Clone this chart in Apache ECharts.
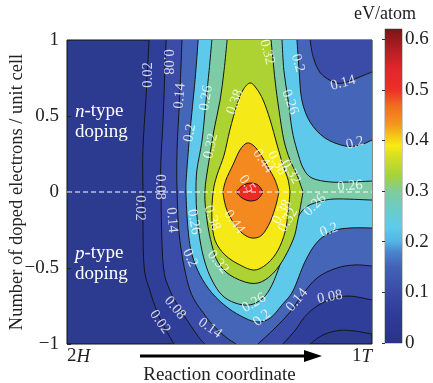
<!DOCTYPE html>
<html>
<head>
<meta charset="utf-8">
<script src="https://cdn.jsdelivr.net/npm/echarts@6/dist/echarts.min.js"></script>
<style>
  html, body { margin: 0; padding: 0; background: #fff; }
  #main { width: 433px; height: 383px; }
</style>
</head>
<body>
<div id="main"></div>
<script>
// x: reaction coordinate (0 = 2H, 1 = 1T), y: doped electrons per unit cell
const levels = [0.02, 0.08, 0.14, 0.2, 0.26, 0.32, 0.38, 0.44, 0.5];
const baseColor = '#2c3a8f'; // below 0.02
const bandColors = ['#2f3e99', '#3a4ca7', '#4565b8', '#5ec9ea', '#7ecca5', '#acd332', '#f5ea17', '#f48a1f', '#ec2b27'];

// contour lines
const c002L = [[0.269, 1], [0.259, 0.62], [0.249, 0.28], [0.249, 0.01], [0.252, -0.47], [0.272, -0.65], [0.298, -0.8], [0.325, -0.91], [0.351, -1]];
const c002R = [[0.797, -1], [0.823, -0.96], [0.852, -0.93], [0.895, -0.91], [0.944, -0.915], [1, -0.935]];
const c008L = [[0.325, 1], [0.321, 0.8], [0.315, 0.47], [0.308, 0.21], [0.308, 0], [0.315, -0.47], [0.338, -0.65], [0.38, -0.8], [0.43, -0.95], [0.452, -1]];
const c008R = [[0.708, -1], [0.748, -0.91], [0.78, -0.82], [0.82, -0.75], [0.872, -0.7], [0.928, -0.685], [1, -0.71]];
const c014L = [[0.377, 1], [0.37, 0.65], [0.361, 0.28], [0.361, 0], [0.37, -0.32], [0.403, -0.645], [0.452, -0.81], [0.485, -0.89], [0.521, -0.955], [0.554, -1]];
const c014R = [[0.626, -1], [0.682, -0.895], [0.731, -0.79], [0.77, -0.68], [0.82, -0.565], [0.885, -0.5], [0.944, -0.48], [1, -0.487]];
const c014T = [[0.797, 1], [0.807, 0.89], [0.83, 0.785], [0.872, 0.725], [0.905, 0.717], [0.951, 0.75], [1, 0.79]];
const c020L = [[0.43, 1], [0.42, 0.74], [0.403, 0.39], [0.393, 0.145], [0.39, 0], [0.397, -0.25], [0.41, -0.414], [0.436, -0.546], [0.475, -0.664], [0.528, -0.763], [0.584, -0.83], [0.626, -0.855], [0.666, -0.83], [0.705, -0.743], [0.741, -0.65], [0.78, -0.46], [0.82, -0.33], [0.872, -0.257], [0.928, -0.237], [1, -0.237]];
const c020T = [[0.754, 1], [0.761, 0.8], [0.77, 0.605], [0.797, 0.46], [0.846, 0.355], [0.911, 0.303], [0.961, 0.309], [1, 0.342]];
const c026L = [[0.475, 1], [0.466, 0.8], [0.456, 0.605], [0.443, 0.342], [0.426, 0.145], [0.423, 0], [0.426, -0.151], [0.436, -0.316], [0.452, -0.461], [0.475, -0.579], [0.508, -0.678], [0.551, -0.73], [0.6, -0.743], [0.643, -0.697], [0.672, -0.612], [0.698, -0.48], [0.725, -0.316], [0.748, -0.197], [0.78, -0.105], [0.823, -0.066], [0.879, -0.046], [1, -0.053]];
const c026T = [[0.705, 1], [0.711, 0.8], [0.725, 0.605], [0.738, 0.408], [0.754, 0.276], [0.774, 0.158], [0.803, 0.092], [0.862, 0.066], [0.928, 0.066], [1, 0.072]];
const c032 = [[0.525, 1], [0.515, 0.8], [0.502, 0.605], [0.482, 0.408], [0.466, 0.211], [0.452, 0], [0.459, -0.184], [0.475, -0.349], [0.495, -0.461], [0.534, -0.546], [0.6, -0.6], [0.649, -0.579], [0.698, -0.48], [0.741, -0.316], [0.757, -0.184], [0.774, 0], [0.754, 0.112], [0.731, 0.211], [0.711, 0.342], [0.695, 0.539], [0.682, 0.737], [0.669, 1]];
const c038 = [[0.6, 0.717], [0.577, 0.671], [0.557, 0.572], [0.534, 0.408], [0.515, 0.243], [0.492, 0.112], [0.479, 0], [0.475, -0.171], [0.485, -0.316], [0.518, -0.414], [0.567, -0.48], [0.616, -0.513], [0.659, -0.467], [0.692, -0.382], [0.715, -0.263], [0.725, -0.132], [0.731, 0], [0.725, 0.079], [0.708, 0.178], [0.689, 0.309], [0.666, 0.474], [0.643, 0.605], [0.62, 0.684]];
const c044 = [[0.59, 0.322], [0.567, 0.276], [0.544, 0.178], [0.521, 0.079], [0.511, 0], [0.521, -0.099], [0.544, -0.197], [0.574, -0.27], [0.607, -0.303], [0.639, -0.283], [0.666, -0.197], [0.685, -0.086], [0.695, 0], [0.682, 0.079], [0.659, 0.164], [0.636, 0.243], [0.613, 0.303]];
const c050 = [[0.554, 0], [0.574, 0.039], [0.6, 0.059], [0.626, 0.046], [0.643, 0], [0.626, -0.046], [0.6, -0.059], [0.574, -0.039]];

// contour labels [x, y, text] and their rotation
const contourLabels = [
  [0.266, 0.77, '0.02'], [0.331, 0.855, '0.08'], [0.37, 0.632, '0.14'], [0.403, 0.388, '0.2'],
  [0.456, 0.618, '0.26'], [0.472, 0.303, '0.32'], [0.551, 0.592, '0.38'], [0.656, 0.921, '0.32'],
  [0.757, 0.849, '0.2'], [0.731, 0.592, '0.26'], [0.905, 0.717, '0.14'], [0.944, 0.322, '0.2'],
  [0.928, 0.039, '0.26'], [0.59, 0.053, '0.5'], [0.643, 0.204, '0.44'], [0.689, 0.191, '0.38'],
  [0.734, 0.132, '0.32'], [0.548, -0.197, '0.44'], [0.475, -0.171, '0.38'], [0.705, -0.132, '0.38'],
  [0.725, -0.184, '0.32'], [0.813, -0.086, '0.26'], [0.859, -0.25, '0.2'], [0.613, -0.73, '0.26'],
  [0.639, -0.829, '0.2'], [0.754, -0.711, '0.14'], [0.862, -0.691, '0.08'], [0.469, -0.895, '0.14'],
  [0.354, -0.763, '0.08'], [0.305, -0.855, '0.02'], [0.344, -0.184, '0.14'], [0.305, 0.033, '0.08'],
  [0.239, -0.105, '0.02'], [0.416, -0.197, '0.26'], [0.403, -0.434, '0.2'], [0.495, -0.461, '0.32']
];
const labelAngles = [90, -90, 85, 80, 80, 78, 70, -75, -75, -70, 15, 15, 5, -55, -55, -60, -60, -55, -70, 60,
  60, 45, 20, 30, 40, 50, 10, -35, -50, -55, -85, -90, -90, -80, -65, -50];

const zeroLine = [[0, 0], [1, 0]];

// colour bar (value, colour)
const cbMax = 0.62;
const cbStops = [
  [0, '#2a3288'], [0.06, '#2f3d98'], [0.1, '#3a4ba5'], [0.15, '#4462b5'], [0.18, '#4a86cc'],
  [0.2, '#55b4e4'], [0.23, '#5fcbea'], [0.27, '#6ecbc0'], [0.3, '#7fcc9c'], [0.33, '#a4d23a'],
  [0.37, '#d8e020'], [0.39, '#f6ea14'], [0.41, '#f5c417'], [0.43, '#f39a1c'], [0.47, '#f06a22'],
  [0.5, '#ec2f27'], [0.54, '#e3262a'], [0.58, '#b31e24'], [0.62, '#7a1518']
];

// pointed vertices of the closed contours (the "V" tips at zero doping)
const sharpAt = new Map([[c032, [15]], [c038, [16]], [c044, [4, 12]], [c050, [0, 4]]]);
const closedCurves = new Set([c038, c044, c050]);

// each filled region: curves (lists of points) and single border corners, in order
const rev = (a) => a.slice().reverse();
const fills = [
  [c002L, c002R, [1, 1]],
  [c008L, c008R, [1, 1]],
  [c014L, c014R, rev(c014T)],
  [c020L, rev(c020T)],
  [c026L, rev(c026T)],
  [c032], [c038], [c044], [c050]
];
const strokes = [
  [c002L, c002R], [c008L, c008R], [c014L, c014R, c014T], [c020L, c020T], [c026L, c026T],
  [c032], [c038], [c044], [c050]
];

const isCurve = (el) => Array.isArray(el[0]);

// Catmull-Rom through the points, as svg bezier commands
function curvePath(px, closed, sharp) {
  const n = px.length;
  const at = (i) => (closed ? px[(i + n) % n] : px[Math.max(0, Math.min(n - 1, i))]);
  const isSharp = (i) => sharp.includes(((i % n) + n) % n);
  let d = '';
  const segs = closed ? n : n - 1;
  for (let i = 0; i < segs; i++) {
    const p0 = at(i - 1), p1 = at(i), p2 = at(i + 1), p3 = at(i + 2);
    const c1 = isSharp(i) ? p1 : [p1[0] + (p2[0] - p0[0]) / 6, p1[1] + (p2[1] - p0[1]) / 6];
    const c2 = isSharp(i + 1) ? p2 : [p2[0] - (p3[0] - p1[0]) / 6, p2[1] - (p3[1] - p1[1]) / 6];
    d += ` C${c1[0]},${c1[1]} ${c2[0]},${c2[1]} ${p2[0]},${p2[1]}`;
  }
  return d;
}

function sharpFor(curve) {
  if (sharpAt.has(curve)) return sharpAt.get(curve);
  return [];
}

const serif = 'Liberation Serif';
const chart = echarts.init(document.getElementById('main'));

const option = {
  animation: false,
  backgroundColor: '#fff',
  grid: [
    { left: 67, right: 61, top: 40, bottom: 39, show: true, backgroundColor: baseColor, borderColor: '#111', borderWidth: 1, outerBoundsMode: 'none' },
    { left: 385, width: 17, top: 29, bottom: 40, show: true, borderColor: '#333', borderWidth: 0.5, outerBoundsMode: 'none' }
  ],
  xAxis: [
    {
      gridIndex: 0, type: 'value', min: 0, max: 1, interval: 1,
      axisLine: { show: false }, axisTick: { show: false }, splitLine: { show: false },
      axisLabel: {
        margin: 3, color: '#222', fontFamily: serif, fontSize: 19,
        alignMinLabel: 'left', alignMaxLabel: 'right',
        formatter: (v) => (v === 0 ? '2{i|H}' : '1{i|T}'),
        rich: { i: { fontStyle: 'italic', fontFamily: serif, fontSize: 19, color: '#222' } }
      },
      name: 'Reaction coordinate', nameLocation: 'middle', nameGap: 22, nameMoveOverlap: false,
      nameTextStyle: { color: '#222', fontFamily: serif, fontSize: 19 }
    },
    { gridIndex: 1, type: 'value', min: 0, max: 1, show: false }
  ],
  yAxis: [
    {
      gridIndex: 0, type: 'value', min: -1, max: 1, interval: 0.5,
      axisLine: { show: false }, splitLine: { show: false },
      axisTick: { show: true, inside: true, length: 4, lineStyle: { color: '#222' } },
      axisLabel: { margin: 8, color: '#222', fontFamily: serif, fontSize: 19, formatter: (v) => String(v).replace('-', '\u2212') },
      name: 'Number of doped electrons / unit cell', nameLocation: 'middle', nameGap: 40, nameMoveOverlap: false,
      nameTextStyle: { color: '#222', fontFamily: serif, fontSize: 18.5 }
    },
    {
      gridIndex: 1, type: 'value', min: 0, max: cbMax, interval: 0.1, position: 'right',
      axisLine: { show: false }, splitLine: { show: false },
      axisTick: { show: true, inside: true, length: 3, lineStyle: { color: '#333' } },
      axisLabel: { margin: 3, color: '#222', fontFamily: serif, fontSize: 19, showMaxLabel: false },
      name: 'eV/atom', nameLocation: 'end', nameGap: 6,
      nameTextStyle: { color: '#222', fontFamily: serif, fontSize: 18 }
    }
  ],
  series: [
    {
      type: 'custom', xAxisIndex: 0, yAxisIndex: 0, z: 1, silent: true, clip: true,
      data: levels.map(() => [0.5, 0]),
      renderItem: (params, api) => {
        const i = params.dataIndex;
        const px = (pts) => pts.map((p) => api.coord(p));
        // filled region above level i
        let fillD = '';
        fills[i].forEach((el, k) => {
          if (isCurve(el)) {
            const p = px(el);
            fillD += (k === 0 ? `M${p[0][0]},${p[0][1]}` : ` L${p[0][0]},${p[0][1]}`);
            fillD += curvePath(p, closedCurves.has(el), sharpFor(el));
          } else {
            const p = api.coord(el);
            fillD += ` L${p[0]},${p[1]}`;
          }
        });
        fillD += ' Z';
        let lineD = '';
        strokes[i].forEach((c) => {
          const p = px(c);
          lineD += `M${p[0][0]},${p[0][1]}` + curvePath(p, closedCurves.has(c), sharpFor(c)) + (closedCurves.has(c) ? ' Z ' : ' ');
        });
        return {
          type: 'group',
          children: [
            { type: 'path', shape: { pathData: fillD }, style: { fill: bandColors[i], stroke: 'none' } },
            { type: 'path', shape: { pathData: lineD }, style: { fill: 'none', stroke: '#151515', lineWidth: 1 } }
          ]
        };
      }
    },
    {
      type: 'line', xAxisIndex: 0, yAxisIndex: 0, z: 3, silent: true, symbol: 'none',
      data: zeroLine, lineStyle: { color: '#fff', width: 1, type: [5, 3] }
    },
    {
      type: 'scatter', xAxisIndex: 0, yAxisIndex: 0, z: 5, silent: true,
      symbolSize: 0.1, itemStyle: { color: 'transparent' },
      label: { show: true, position: 'inside', color: '#fff', fontFamily: serif, fontSize: 14.5 },
      data: contourLabels.map((l, i) => ({ value: [l[0], l[1]], label: { formatter: l[2], rotate: labelAngles[i] } }))
    },
    {
      type: 'custom', xAxisIndex: 1, yAxisIndex: 1, silent: true,
      data: [[0.5, 0]],
      renderItem: (params, api) => {
        const p0 = api.coord([0, cbMax]);
        const p1 = api.coord([1, 0]);
        return {
          type: 'rect',
          shape: { x: p0[0], y: p0[1], width: p1[0] - p0[0], height: p1[1] - p0[1] },
          style: {
            fill: new echarts.graphic.LinearGradient(0, 1, 0, 0,
              cbStops.map(([v, c]) => ({ offset: v / cbMax, color: c })))
          }
        };
      }
    }
  ],
  graphic: [
    {
      type: 'text', x: 75, y: 101, z: 10,
      style: {
        text: '{i|n}-type\ndoping', fill: '#fff', font: '19px "Liberation Serif"', lineHeight: 21,
        rich: { i: { fontStyle: 'italic', fontFamily: serif, fontSize: 19, fill: '#fff' } }
      }
    },
    {
      type: 'text', x: 75, y: 243, z: 10,
      style: {
        text: '{i|p}-type\ndoping', fill: '#fff', font: '19px "Liberation Serif"', lineHeight: 21,
        rich: { i: { fontStyle: 'italic', fontFamily: serif, fontSize: 19, fill: '#fff' } }
      }
    },
    { type: 'line', shape: { x1: 140, y1: 356, x2: 306, y2: 356 }, style: { stroke: '#000', lineWidth: 3 } },
    { type: 'polygon', shape: { points: [[304, 350], [322, 356], [304, 362]] }, style: { fill: '#000' } }
  ]
};

chart.setOption(option);
</script>
</body>
</html>
